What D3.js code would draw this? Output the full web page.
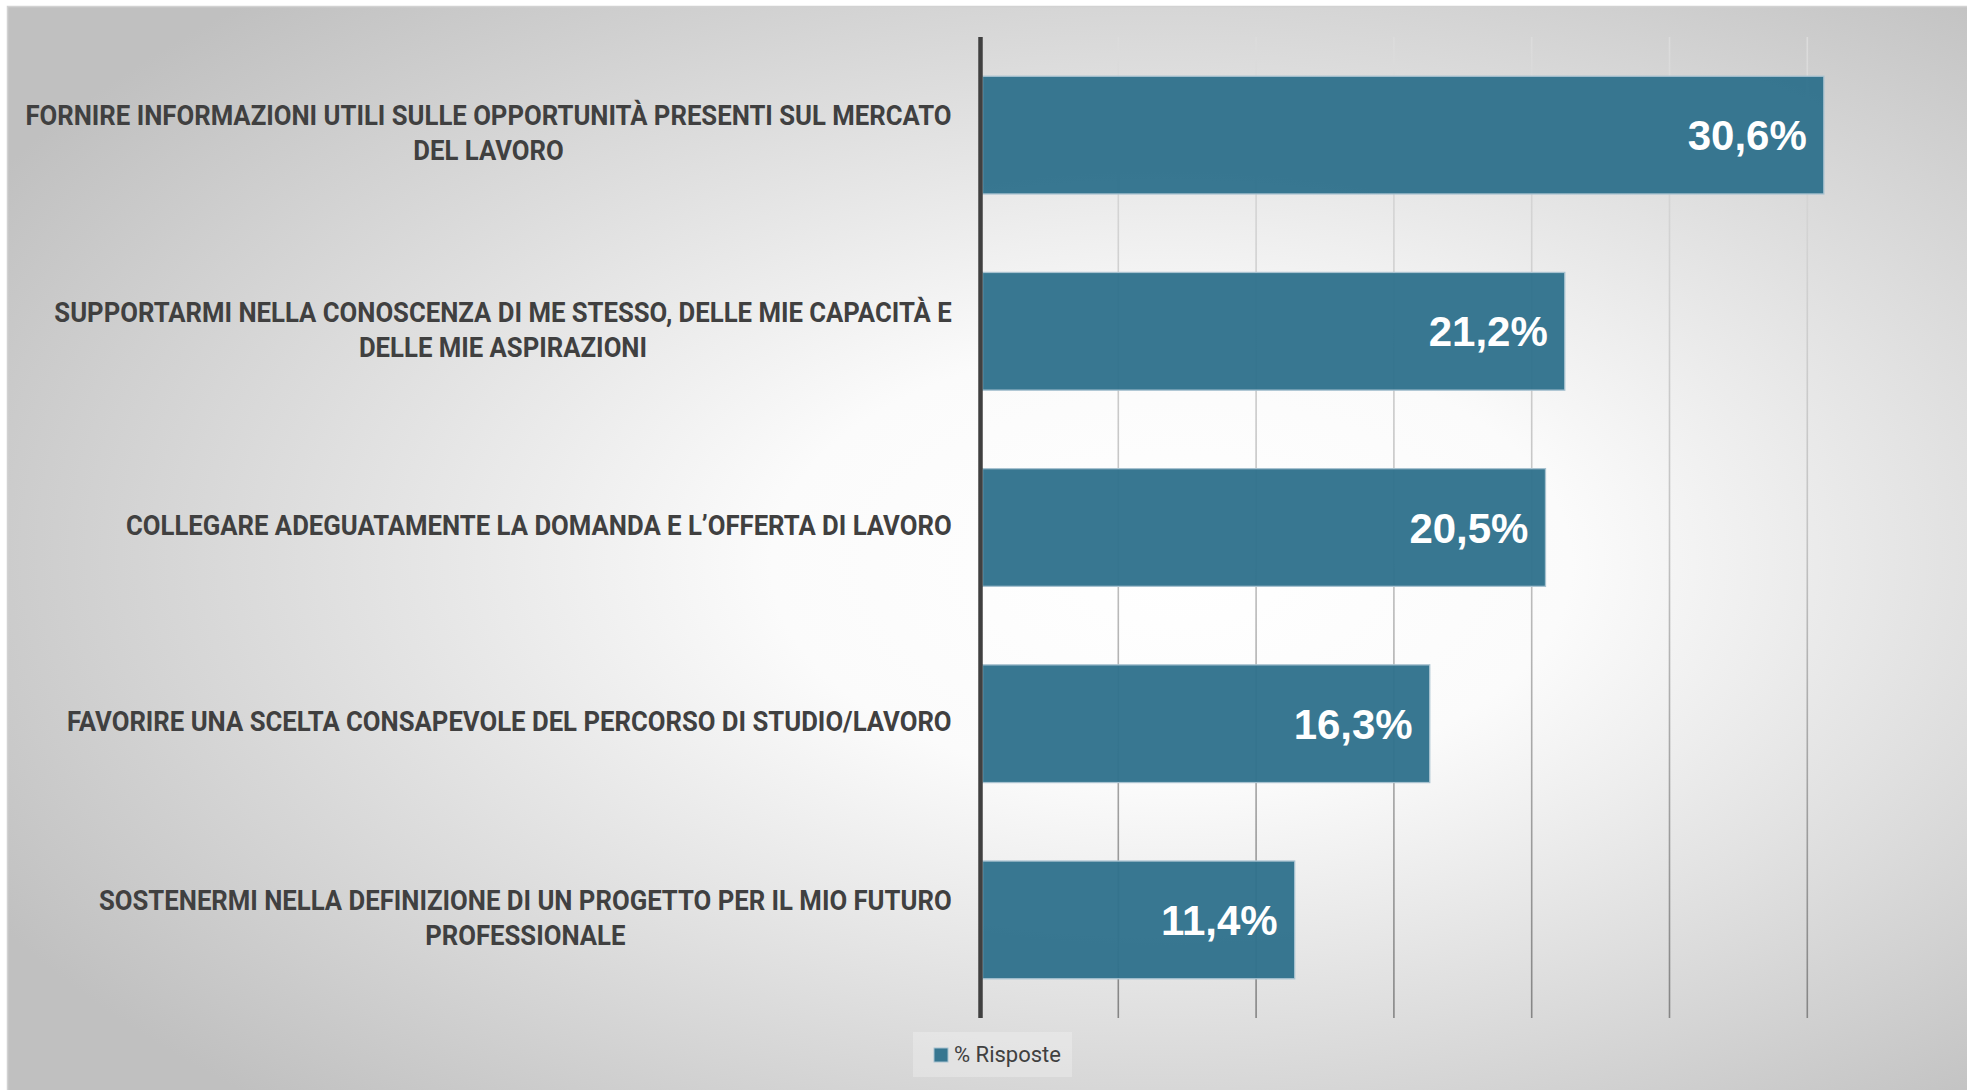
<!DOCTYPE html>
<html>
<head>
<meta charset="utf-8">
<script src="https://cdn.jsdelivr.net/npm/d3@7"></script>
<style>
  html, body { margin: 0; padding: 0; background: #ffffff; }
  svg { display: block; }
</style>
</head>
<body>
<svg id="chart" width="1967" height="1090"></svg>
<script>
// ---- data ----
const categories = [
  "FORNIRE INFORMAZIONI UTILI SULLE OPPORTUNITÀ PRESENTI SUL MERCATO\nDEL LAVORO",
  "SUPPORTARMI NELLA CONOSCENZA DI ME STESSO, DELLE MIE CAPACITÀ E\nDELLE MIE ASPIRAZIONI",
  "COLLEGARE ADEGUATAMENTE LA DOMANDA E L’OFFERTA DI LAVORO",
  "FAVORIRE UNA SCELTA CONSAPEVOLE DEL PERCORSO DI STUDIO/LAVORO",
  "SOSTENERMI NELLA DEFINIZIONE DI UN PROGETTO PER IL MIO FUTURO\nPROFESSIONALE"
];
const values = [30.6, 21.2, 20.5, 16.3, 11.4];
const valueLabels = ["30,6%", "21,2%", "20,5%", "16,3%", "11,4%"];
const gridTicks = [0, 5, 10, 15, 20, 25, 30];
const seriesName = "% Risposte";

// ---- layout ----
const W = 1967, H = 1090;
const plot = { left: 980.5, top: 37, bottom: 1018 };
const svg = d3.select("#chart");
const defs = svg.append("defs");

const bg = defs.append("radialGradient").attr("id", "bg")
  .attr("cx", 0.58).attr("cy", 0.5).attr("r", 0.68).attr("fx", 0.6).attr("fy", 0.52);
bg.append("stop").attr("offset", 0).attr("stop-color", "#ffffff");
bg.append("stop").attr("offset", 0.3).attr("stop-color", "#fbfbfb");
bg.append("stop").attr("offset", 1).attr("stop-color", "#c0c0c0");

const gg = defs.append("linearGradient").attr("id", "grid")
  .attr("gradientUnits", "userSpaceOnUse")
  .attr("x1", 0).attr("y1", plot.top).attr("x2", 0).attr("y2", plot.bottom);
gg.append("stop").attr("offset", 0).attr("stop-color", "#dcdcdc");
gg.append("stop").attr("offset", 0.5).attr("stop-color", "#c4c4c4");
gg.append("stop").attr("offset", 1).attr("stop-color", "#858585");

// frame
svg.append("rect").attr("x", 7).attr("y", 6).attr("width", W - 7).attr("height", H - 6)
  .attr("fill", "url(#bg)");
svg.append("path").attr("d", `M7.5,${H} V6.5 H${W}`)
  .attr("fill", "none").attr("stroke", "#d2d2d2").attr("stroke-width", 1.5);

// scales
const pxPerUnit = 27.56;
const x = d3.scaleLinear().domain([0, 35]).range([plot.left, plot.left + 35 * pxPerUnit]);
const y = d3.scaleBand().domain(categories).range([plot.top, plot.bottom])
  .paddingInner(0.4).paddingOuter(0.2);

// gridlines
svg.append("g").selectAll("line").data(gridTicks.filter(d => d > 0)).join("line")
  .attr("x1", d => x(d)).attr("x2", d => x(d))
  .attr("y1", plot.top).attr("y2", plot.bottom)
  .attr("stroke", "url(#grid)").attr("stroke-width", 1.6);

// bars
svg.append("g").selectAll("rect").data(values).join("rect")
  .attr("x", x(0) + 2)
  .attr("y", (d, i) => y(categories[i]))
  .attr("width", d => x(d) - x(0) - 2)
  .attr("height", y.bandwidth())
  .attr("fill", "#30718d").attr("fill-opacity", 0.96)
  .attr("stroke", "#a8c2d0").attr("stroke-width", 1.3);

// vertical axis line
svg.append("line").attr("x1", x(0)).attr("x2", x(0))
  .attr("y1", plot.top).attr("y2", plot.bottom)
  .attr("stroke", "#404040").attr("stroke-width", 4.5);

// value labels
svg.append("g").selectAll("text").data(values).join("text")
  .attr("x", d => x(d) - 17)
  .attr("y", (d, i) => y(categories[i]) + y.bandwidth() / 2)
  .attr("dy", "0.36em")
  .attr("text-anchor", "end")
  .attr("font-family", "'Liberation Sans', Arial, sans-serif")
  .attr("font-weight", "bold")
  .attr("font-size", 42)
  .attr("fill", "#ffffff")
  .text((d, i) => valueLabels[i]);

// category labels (centered lines, block right-aligned, horizontally condensed)
const labelRight = 952;
const lineGap = 35;
const groups = svg.append("g").selectAll("g").data(categories).join("g");
groups.each(function(d) {
  const g = d3.select(this);
  const lines = d.split("\n");
  lines.forEach((ln, k) => {
    g.append("text")
      .attr("x", 0)
      .attr("y", (k - (lines.length - 1) / 2) * lineGap - 2.5)
      .attr("dy", "0.36em")
      .attr("text-anchor", "middle")
      .attr("font-family", "Roboto, 'Noto Sans', sans-serif")
      .attr("font-weight", "bold")
      .attr("font-size", 28.5)
      .attr("fill", "#404040")
      .text(ln);
  });
});
const firstText = groups.filter((d, i) => i === 0).select("text").node();
const sx = 927 / firstText.getComputedTextLength();
groups.attr("transform", function(d) {
  let maxW = 0;
  d3.select(this).selectAll("text").each(function() {
    maxW = Math.max(maxW, this.getComputedTextLength());
  });
  const cx = labelRight - maxW * sx / 2;
  const cy = y(d) + y.bandwidth() / 2;
  return `translate(${cx},${cy}) scale(${sx},1)`;
});

// legend
const leg = svg.append("g");
leg.append("rect").attr("x", 913).attr("y", 1032).attr("width", 159).attr("height", 45)
  .attr("fill", "#ffffff").attr("fill-opacity", 0.25);
leg.append("rect").attr("x", 934).attr("y", 1048).attr("width", 14).attr("height", 14)
  .attr("fill", "#30718d").attr("fill-opacity", 0.96)
  .attr("stroke", "#a8c2d0").attr("stroke-width", 1);
leg.append("text").attr("x", 954).attr("y", 1054).attr("dy", "0.36em")
  .attr("font-family", "Roboto, 'Noto Sans', sans-serif")
  .attr("font-size", 22).attr("fill", "#404040")
  .text(seriesName);
</script>
</body>
</html>
